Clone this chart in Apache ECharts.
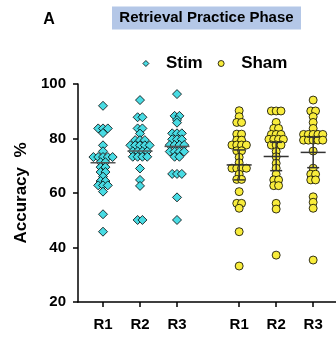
<!DOCTYPE html>
<html>
<head>
<meta charset="utf-8">
<script src="https://cdn.jsdelivr.net/npm/echarts@6/dist/echarts.min.js"></script>
<style>
  html, body { margin: 0; padding: 0; background: #fff; }
  #container { width: 336px; height: 345px; }
</style>
</head>
<body>
<div id="container"></div>
<script>
  // categories and their positions on the x axis (gap between the two groups)
  const categories = ['R1', 'R2', 'R3', 'R1', 'R2', 'R3'];
  const positions = [1, 2, 3, 4.68, 5.68, 6.68];
  const yTicks = [20, 40, 60, 80, 100];

  // individual accuracy values
  const stimR1 = [92, 83.7, 83.7, 83.7, 82, 77.5, 75.3, 73.2, 73.2, 73.2, 73.2, 73.2, 71.3, 71.3,
    69.5, 69.5, 67.7, 67.7, 66, 64.4, 64.4, 62.8, 62.8, 62.8, 60.5, 52.2, 45.8];
  const stimR2 = [94.1, 87.8, 87.8, 83.7, 83.7, 81.8, 79.4, 79.4, 79.4, 77.5, 77.5, 77.5, 77.5, 77.5,
    75.3, 75.3, 75.3, 75.3, 73.3, 73.3, 73.3, 73.3, 69, 64.8, 62.6, 50.1, 50.1];
  const stimR3 = [96.3, 88.3, 88.3, 86.8, 85.8, 81.9, 81.9, 81.9, 79.7, 79.7, 79.7, 77.6, 77.6, 77.6, 77.6,
    75.2, 75.2, 75.2, 75.2, 73.3, 73.3, 67, 67, 67, 58.4, 50.1];
  const shamR1 = [90.2, 88, 85.9, 85.9, 81.6, 81.6, 79.4, 79.4, 77.6, 77.6, 77.6, 77.6, 75.5, 75.5,
    73.1, 71.1, 69.1, 69.1, 69.1, 69.1, 66.9, 65, 65, 60.5, 56.2, 56.2, 54.4, 45.8, 33.2];
  const shamR2 = [90.1, 90.1, 90.1, 85.9, 83.7, 83.7, 81.5, 81.5, 81.5, 79.7, 79.7, 79.7, 79.7,
    77.6, 77.6, 77.6, 75.2, 73.3, 70.9, 69.1, 66.9, 64.8, 64.8, 62.7, 62.7, 56.2, 54.1, 37.2];
  const shamR3 = [94.1, 90.1, 90.1, 88, 85.9, 83.7, 81.5, 81.5, 81.5, 81.5, 81.5, 79.4, 79.4, 79.4, 79.4, 79.4,
    75.4, 69.1, 66.9, 66.9, 64.8, 64.8, 58.6, 56.6, 54.4, 35.4];

  // summary lines: mean and error bar ends
  const stimMean = [71.1, 75.4, 77.1];
  const shamMean = [70.3, 73.4, 74.9];
  const shamLow = [64.8, 68.2, 69.3];
  const shamHigh = [75.8, 78.6, 80.5];

  const FONT = 'Liberation Sans, Arial, sans-serif';
  const CYAN = '#48dbe3';
  const YELLOW = '#f8ec3b';

  // lay identical values side by side in a row, centred on the column
  function swarm(vals, center) {
    let counts = {};
    vals.forEach(v => { counts[v] = (counts[v] || 0) + 1; });
    let seen = {};
    let step = 0.13;
    return vals.map(v => {
      let n = counts[v];
      let i = seen[v] || 0;
      seen[v] = i + 1;
      return [center + (i - (n - 1) / 2) * step, v];
    });
  }

  let stimData = [].concat(swarm(stimR1, positions[0]), swarm(stimR2, positions[1]), swarm(stimR3, positions[2]));
  let shamData = [].concat(swarm(shamR1, positions[3]), swarm(shamR2, positions[4]), swarm(shamR3, positions[5]));
  let stimSummary = stimMean.map((m, i) => [positions[i], m, m, m]);
  let shamSummary = shamMean.map((m, i) => [positions[i + 3], m, shamLow[i], shamHigh[i]]);

  function summaryRenderer(half, cap, color) {
    return function (params, api) {
      let c = api.coord([api.value(0), api.value(1)]);
      let lo = api.coord([api.value(0), api.value(2)]);
      let hi = api.coord([api.value(0), api.value(3)]);
      let style = { stroke: color, lineWidth: 1.5 };
      let children = [
        { type: 'line', shape: { x1: c[0] - half, y1: c[1], x2: c[0] + half, y2: c[1] }, style: style }
      ];
      if (lo[1] !== hi[1]) {
        children.push(
          { type: 'line', shape: { x1: c[0], y1: lo[1], x2: c[0], y2: hi[1] }, style: style },
          { type: 'line', shape: { x1: c[0] - cap, y1: lo[1], x2: c[0] + cap, y2: lo[1] }, style: style },
          { type: 'line', shape: { x1: c[0] - cap, y1: hi[1], x2: c[0] + cap, y2: hi[1] }, style: style }
        );
      }
      return { type: 'group', children: children };
    };
  }

  let chart = echarts.init(document.getElementById('container'));
  let option = {
    animation: false,
    textStyle: { fontFamily: FONT },
    graphic: [
      { type: 'text', x: 49, y: 20, style: { text: 'A', fontFamily: FONT, fontSize: 16, fontWeight: 'bold',
          fill: '#000', align: 'center', verticalAlign: 'middle' } },
      { type: 'rect', shape: { x: 112, y: 6.5, width: 189, height: 23 }, style: { fill: '#b4c7e7' } },
      { type: 'text', x: 206.5, y: 18, style: { text: 'Retrieval Practice Phase', fontFamily: FONT, fontSize: 15,
          fontWeight: 'bold', fill: '#000', align: 'center', verticalAlign: 'middle' } }
    ],
    legend: {
      left: 137.5,
      top: 50,
      itemWidth: 6,
      itemHeight: 6,
      itemGap: 15,
      data: [
        { name: 'Stim', icon: 'diamond', itemStyle: { color: CYAN, borderColor: '#000', borderWidth: 0.8 } },
        { name: 'Sham', icon: 'circle', itemStyle: { color: YELLOW, borderColor: '#000', borderWidth: 0.8 } }
      ],
      textStyle: { fontFamily: FONT, fontSize: 17, fontWeight: 'bold', color: '#000', padding: [0, 0, 0, 12] }
    },
    grid: { left: 78, right: 0, top: 84, bottom: 43 },
    xAxis: {
      type: 'value',
      min: 0.324,
      max: 7.297,
      splitLine: { show: false },
      axisLine: { lineStyle: { color: '#000', width: 1.5 } },
      axisTick: { customValues: positions, length: 5, lineStyle: { color: '#000', width: 1.5 } },
      axisLabel: {
        customValues: positions,
        margin: 15,
        fontSize: 15,
        fontWeight: 'bold',
        color: '#000',
        formatter: function (v) {
          let i = positions.findIndex(p => Math.abs(p - v) < 0.01);
          return i >= 0 ? categories[i] : '';
        }
      }
    },
    yAxis: {
      type: 'value',
      min: yTicks[0],
      max: yTicks[yTicks.length - 1],
      interval: 20,
      name: 'Accuracy  %',
      nameLocation: 'middle',
      nameGap: 48,
      nameTextStyle: { fontSize: 17, fontWeight: 'bold', color: '#000' },
      splitLine: { show: false },
      axisLine: { show: true, lineStyle: { color: '#000', width: 1.5 } },
      axisTick: { show: true, length: 5, lineStyle: { color: '#000', width: 1.5 } },
      axisLabel: { margin: 12, fontSize: 15, fontWeight: 'bold', color: '#000' }
    },
    series: [
      {
        name: 'Stim', type: 'scatter', symbol: 'diamond', symbolSize: 9, z: 2,
        itemStyle: { color: CYAN, borderColor: '#000', borderWidth: 0.8, opacity: 1 },
        data: stimData
      },
      {
        name: 'Sham', type: 'scatter', symbol: 'circle', symbolSize: 8, z: 2,
        itemStyle: { color: YELLOW, borderColor: '#000', borderWidth: 0.8, opacity: 1 },
        data: shamData
      },
      {
        type: 'custom', z: 5, silent: true,
        renderItem: summaryRenderer(12.5, 0, '#555'),
        encode: { x: 0, y: 1 },
        data: stimSummary
      },
      {
        type: 'custom', z: 5, silent: true,
        renderItem: summaryRenderer(12.5, 6, '#333'),
        encode: { x: 0, y: 1 },
        data: shamSummary
      }
    ]
  };
  chart.setOption(option);
</script>
</body>
</html>
